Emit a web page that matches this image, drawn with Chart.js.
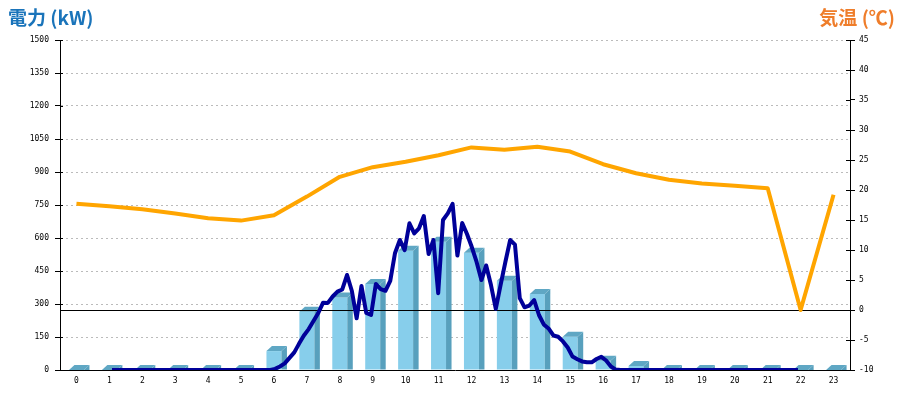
<!DOCTYPE html>
<html><head><meta charset="utf-8">
<script src="https://cdn.jsdelivr.net/npm/chart.js@4.4.1/dist/chart.umd.min.js"></script>
<style>
html,body{margin:0;padding:0;background:#fff;}
#wrap{position:relative;width:900px;height:400px;}
canvas{position:absolute;left:0;top:0;}
.ttl{position:absolute;top:7px;font-family:"Noto Sans CJK JP",sans-serif;font-weight:bold;font-size:19px;line-height:19px;white-space:nowrap;}
#tl{left:8px;color:#1a74ba;}
#tr{right:5px;color:#ef7d2a;}
</style></head>
<body><div id="wrap"><canvas id="c" width="900" height="400"></canvas>
<div class="ttl" id="tl">電力 (kW)</div><div class="ttl" id="tr">気温 (℃)</div></div>
<script>
const hours = ['0','1','2','3','4','5','6','7','8','9','10','11','12','13','14','15','16','17','18','19','20','21','22','23'];
const hourlyEnergy = [0,0,0,0,0,0,86,265,329,391,542,583,533,406,345,151,42,18,0,0,0,0,0,0];
const temperature = [17.7,17.3,16.8,16.1,15.3,14.9,15.8,18.9,22.2,23.8,24.7,25.8,27.1,26.7,27.2,26.4,24.3,22.8,21.7,21.1,20.7,20.3,0,19.2];
// 10-minute power readings (kW), 144 per day
const powerKW = [
  0,0,0,0,0,0, 0,0,0,0,0,0, 0,0,0,0,0,0, 0,0,0,0,0,0, 0,0,0,0,0,0,
  0,0,0,0,5,16,
  30,55,80,120,157,186,
  223,259,306,305,334,356,
  366,432,359,235,382,259,
  250,391,368,360,405,532,
  591,545,667,621,644,700,
  527,591,349,682,712,755,
  520,668,618,559,491,409,
  475,386,278,386,491,591,
  570,327,285,293,318,250,
  207,189,157,151,130,102,
  61,49,39,35,35,50,
  60,43,16,2,0,0,
  0,0,0,0,0,0, 0,0,0,0,0,0, 0,0,0,0,0,0, 0,0,0,0,0,0, 0,0,0,0,0,0, 0,0,0,0,0,0
];
const powerTicks = [0,150,300,450,600,750,900,1050,1200,1350,1500];
const tempTicks = [-10,-5,0,5,10,15,20,25,30,35,40,45];

const tickFont = {family:'"DejaVu Sans Mono", monospace', size:8};

const bar3d = {
  id:'bar3d',
  afterDatasetDraw(chart, args){
    if (args.index !== 0) return;
    const ctx = chart.ctx;
    const dx = 5.5, dy = 5;
    ctx.save();
    args.meta.data.forEach(el => {
      const p = el.getProps(['x','y','base','width'], true);
      const l = p.x - p.width/2, r = p.x + p.width/2;
      ctx.fillStyle = '#58a0bd';
      ctx.beginPath(); ctx.moveTo(r,p.y); ctx.lineTo(r+dx,p.y-dy); ctx.lineTo(r+dx,p.base); ctx.lineTo(r,p.base); ctx.closePath(); ctx.fill();
      ctx.fillStyle = '#5fa7c4';
      ctx.beginPath(); ctx.moveTo(l,p.y); ctx.lineTo(l+dx,p.y-dy); ctx.lineTo(r+dx,p.y-dy); ctx.lineTo(r,p.y); ctx.closePath(); ctx.fill();
    });
    const a = chart.chartArea;
    const py = Math.round(chart.scales.yT.getPixelForValue(0)) + 0.5;
    ctx.strokeStyle = '#000'; ctx.lineWidth = 1;
    ctx.beginPath(); ctx.moveTo(a.left, py); ctx.lineTo(a.right, py); ctx.stroke();
    ctx.restore();
  },
  afterDraw(chart){
    const ctx = chart.ctx;
    const a = chart.chartArea;
    ctx.save();
    ctx.strokeStyle = '#000'; ctx.lineWidth = 1;
    const yL = chart.scales.y, yR = chart.scales.yT;
    yL.ticks.forEach(t => { const py = Math.round(yL.getPixelForValue(t.value))+0.5; ctx.beginPath(); ctx.moveTo(a.left, py); ctx.lineTo(a.left+3, py); ctx.stroke(); });
    yR.ticks.forEach(t => { const py = Math.round(yR.getPixelForValue(t.value))+0.5; ctx.beginPath(); ctx.moveTo(a.right-4, py); ctx.lineTo(a.right, py); ctx.stroke(); });
    ctx.restore();
  }
};

new Chart(document.getElementById('c'), {
  type:'bar',
  data:{
    labels: hours,
    datasets:[
      {type:'bar', label:'電力量', data: hourlyEnergy, backgroundColor:'#87CEEB', borderWidth:0, grouped:false, maxBarThickness:15, xAxisID:'x', yAxisID:'y', order:3},
      {type:'line', label:'気温', data: temperature, borderColor:'#FFA500', borderWidth:4, pointRadius:0, tension:0, borderJoinStyle:'round', xAxisID:'x', yAxisID:'yT', order:2},
      {type:'line', label:'電力', data: powerKW.map((v,i)=>({x:i,y:v})), borderColor:'#000099', borderWidth:4, pointRadius:0, tension:0, borderJoinStyle:'round', xAxisID:'x2', yAxisID:'y', order:1}
    ]
  },
  options:{
    responsive:false, animation:false, devicePixelRatio:1,
    layout:{padding:{top:40,left:0,right:0,bottom:0}},
    plugins:{legend:{display:false}, tooltip:{enabled:false}},
    scales:{
      x:{type:'category', offset:true, position:'bottom',
         grid:{drawOnChartArea:false, drawTicks:false},
         border:{color:'#000', width:1},
         ticks:{font:tickFont, color:'#000', padding:6, maxRotation:0, autoSkip:false},
         afterFit:s=>{s.height=30;}},
      x2:{type:'linear', display:false, min:-0.55, max:143.55},
      y:{type:'linear', position:'left', min:0, max:1500,
         afterBuildTicks:s=>{s.ticks = powerTicks.map(v=>({value:v}));},
         grid:{color:'#bbbbbb', lineWidth:1, tickColor:'#000', tickLength:5, tickBorderDash:[]},
         border:{color:'#000', width:1, dash:[2,3]},
         ticks:{font:tickFont, color:'#000', padding:6, callback:v=>String(v)},
         afterFit:s=>{s.width=60;}},
      yT:{type:'linear', position:'right', min:-10, max:45,
         afterBuildTicks:s=>{s.ticks = tempTicks.map(v=>({value:v}));},
         grid:{drawOnChartArea:false, tickColor:'#000', tickLength:5},
         border:{color:'#000', width:1},
         ticks:{font:tickFont, color:'#000', padding:4, callback:v=>String(v)},
         afterFit:s=>{s.width=50;}}
    }
  },
  plugins:[bar3d]
});
</script>
</body></html>
